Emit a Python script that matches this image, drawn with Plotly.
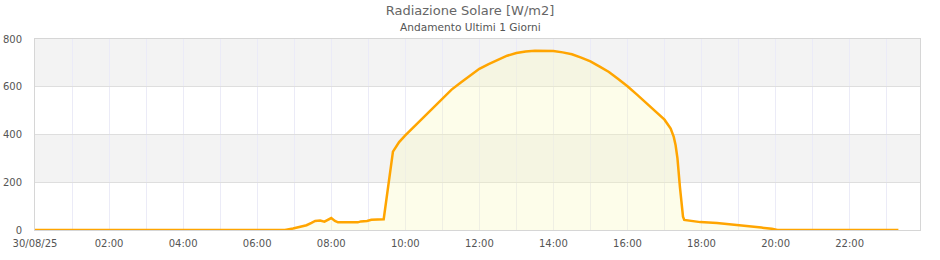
import plotly.graph_objects as go

DAY = "2025-08-30"

times = [
    "00:00", "06:45", "06:58", "07:12", "07:20", "07:28", "07:34", "07:42", "07:49",
    "08:00", "08:06", "08:11", "08:43", "08:48", "08:58", "09:05", "09:20", "09:25",
    "09:40", "09:50", "10:00", "10:15", "10:30", "10:45", "11:00", "11:15", "11:30",
    "11:45", "12:00", "12:15", "12:30", "12:45", "13:00", "13:15", "13:30", "13:45",
    "14:00", "14:15", "14:30", "14:45", "15:00", "15:15", "15:30", "15:45", "16:00",
    "16:15", "16:30", "16:45", "17:00", "17:10", "17:15", "17:18", "17:21", "17:25",
    "17:30", "17:32", "17:45", "17:58", "18:25", "18:46", "19:05", "19:24", "19:37",
    "19:54", "20:03", "23:19",
]
values = [
    0, 0, 6, 13, 20, 30, 38, 40, 35,
    50, 38, 32, 32, 36, 38, 43, 44, 45,
    328, 368, 396, 435, 475, 513, 552, 588, 618,
    646, 675, 695, 714, 730, 741, 748, 751, 752,
    750, 744, 736, 722, 706, 684, 662, 632, 602,
    568, 533, 497, 462, 425, 390, 355, 300, 180,
    56, 42, 38, 33, 29, 24, 20, 16, 10,
    5, 0, 0,
]

tick_hours = ["00:00", "02:00", "04:00", "06:00", "08:00", "10:00",
              "12:00", "14:00", "16:00", "18:00", "20:00", "22:00"]
tick_labels = ["30/08/25", "02:00", "04:00", "06:00", "08:00", "10:00",
               "12:00", "14:00", "16:00", "18:00", "20:00", "22:00"]

y_ticks = [0, 200, 400, 600, 800]
band_ranges = [(200, 400), (600, 800)]

x = [f"{DAY} {t}" for t in times]

fig = go.Figure()
fig.add_trace(go.Scatter(
    x=x, y=values, mode="lines",
    line=dict(color="#FFA500", width=2.5),
    fill="tozeroy", fillcolor="rgba(250,250,190,0.32)",
    hoverinfo="skip",
))

for y0, y1 in band_ranges:
    fig.add_shape(type="rect", xref="paper", yref="y", x0=0, x1=1, y0=y0, y1=y1,
                  fillcolor="#f3f3f3", line_width=0, layer="below")

fig.update_layout(
    width=940, height=260,
    margin=dict(l=35, r=20, t=39, b=30),
    paper_bgcolor="white", plot_bgcolor="white",
    showlegend=False,
    font=dict(family="DejaVu Sans", size=10, color="#555555"),
    title=dict(text="Radiazione Solare [W/m2]", xref="container", x=0.5,
               yref="container", y=1 - 10 / 260, yanchor="middle", xanchor="center",
               font=dict(size=13, color="#666666")),
    annotations=[dict(text="Andamento Ultimi 1 Giorni", xref="paper", yref="paper",
                      x=(470 - 35) / 885, y=1 + 12 / 191, xanchor="center",
                      yanchor="middle", showarrow=False,
                      font=dict(size=10.6, color="#555555"))],
)

fig.update_xaxes(
    type="date", automargin=False,
    range=[f"{DAY} 00:00", f"{DAY} 23:54"],
    tickvals=[f"{DAY} {h}" for h in tick_hours],
    ticktext=tick_labels,
    showgrid=True, gridcolor="#ebebf7", gridwidth=1,
    minor=dict(dtick=3600000, showgrid=True, gridcolor="#ebebf7", gridwidth=1,
               tick0=f"{DAY} 00:00"),
    showline=True, linecolor="#d6d6d6", linewidth=1, mirror=True,
    ticks="", zeroline=False, ticklabelstandoff=4,
    tickfont=dict(size=10, color="#555555"),
)
fig.update_yaxes(
    range=[0, 800], tickvals=y_ticks, automargin=False,
    showgrid=True, gridcolor="#dedede", gridwidth=1,
    showline=True, linecolor="#d6d6d6", linewidth=1, mirror=True,
    ticks="", zeroline=False, ticklabelstandoff=10,
    tickfont=dict(size=10, color="#555555"),
)

fig.write_html("out.html")
